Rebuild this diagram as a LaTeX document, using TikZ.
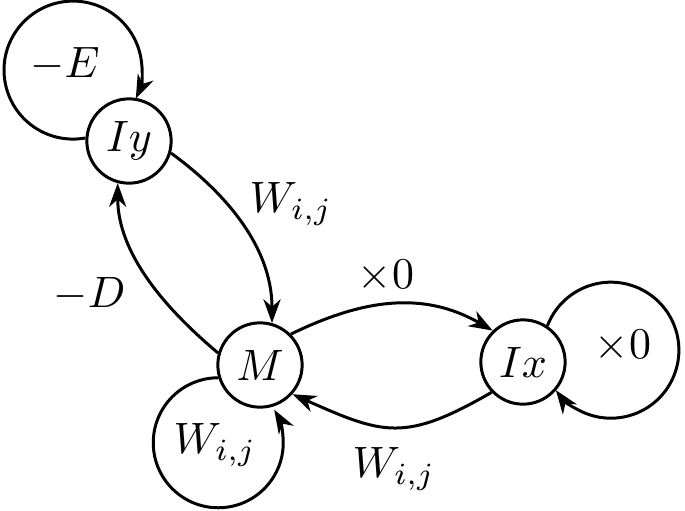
\documentclass[tikz,border=0pt]{standalone}
\usetikzlibrary{arrows.meta}
\begin{document}
\begin{tikzpicture}[x=0.2277pt,y=0.2277pt,
  state/.style={circle,draw,line width=0.68pt,minimum size=19.2pt,inner sep=0pt},
  conn/.style={line width=0.68pt,-{Stealth[length=5.4pt,width=3.9pt,inset=1.7pt]}},
  lbl/.style={inner sep=0pt}]
\useasboundingbox (0,0) rectangle (685,510);
\node[state] (Iy) at (129,369) {$Iy$};
\node[state] (M) at (260,145) {$M$};
\node[state] (Ix) at (523,148) {$Ix$};
% loops
\draw[conn] (Iy.176) arc[start angle=-79.6, end angle=-384.5, radius=69];
\draw[conn] (M.197) arc[start angle=90, end angle=390.6, radius=65];
\draw[conn] (Ix.56.8) arc[start angle=159, end angle=-144, radius=68];
% edges
\draw[conn] (Iy.-16) .. controls +(-36:60) and +(90:80) .. (M.74);
\draw[conn] (M.164) .. controls +(140:70) and +(270:70) .. (Iy.255);
\draw[conn] (M.45) .. controls +(26:80) and +(150:80) .. (Ix.134);
\draw[conn] (Ix.224) .. controls +(210:100) and +(-24:100) .. (M.318);
% labels
\node[lbl] (lE) at (65,446) {$-E$};
\node[lbl] (lW1) at (291,306) {$W_{i,j}$};
\node[lbl] (lD) at (89.5,216) {$-D$};
\node[lbl] (lX1) at (386,234) {$\times 0$};
\node[lbl] (lW2) at (394,41) {$W_{i,j}$};
\node[lbl] (lW3) at (215,65) {$W_{i,j}$};
\node[lbl] (lX2) at (623,163.5) {$\times 0$};
\end{tikzpicture}
\end{document}
